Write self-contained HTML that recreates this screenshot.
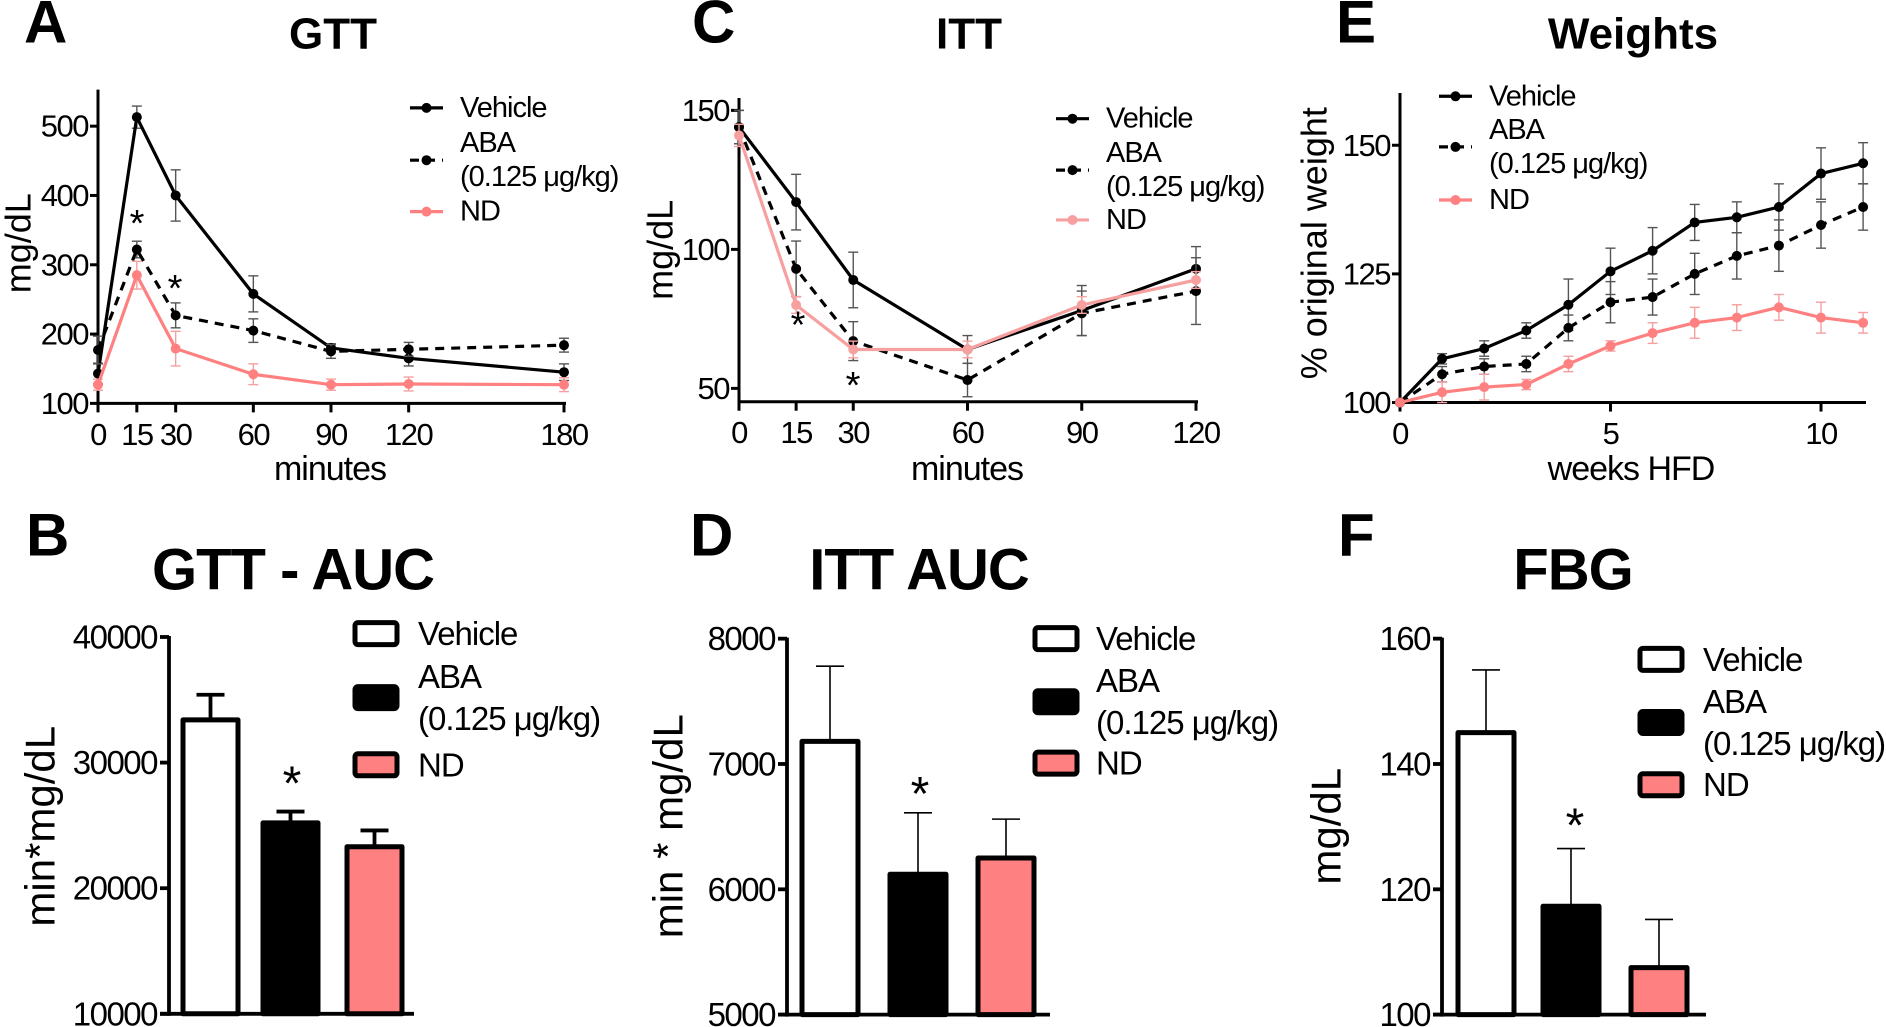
<!DOCTYPE html>
<html><head><meta charset="utf-8"><style>
html,body{margin:0;padding:0;background:#fff;}
svg{display:block;font-family:"Liberation Sans",Arial,sans-serif;}
</style></head><body>
<svg id="fig" width="1886" height="1027" viewBox="0 0 1886 1027" xmlns="http://www.w3.org/2000/svg"><g id="root"></g></svg>
<script>
// ---------- Panel A: GTT ----------
const gttTimes = [0, 15, 30, 60, 90, 120, 180];
const gttVehicle = [143, 513, 400, 258, 180, 165, 145];
const gttVehicleErr = [15, 16, 37, 26, 6, 11, 12];
const gttABA = [177, 322, 227, 205, 175, 178, 184];
const gttABAErr = [20, 12, 18, 17, 10, 10, 10];
const gttND = [127, 285, 179, 142, 127, 128, 127];
const gttNDErr = [8, 20, 25, 15, 8, 10, 10];
const gttXTicks = [0, 15, 30, 60, 90, 120, 180];
const gttYTicks = [100, 200, 300, 400, 500];
// ---------- Panel C: ITT ----------
const ittTimes = [0, 15, 30, 60, 90, 120];
const ittVehicle = [144, 117, 89, 64, 78, 93];
const ittVehicleErr = [6, 10, 10, 5, 9, 8];
const ittABA = [144, 93, 67, 53, 77, 85];
const ittABAErr = [6, 10, 7, 6, 8, 12];
const ittND = [141, 80, 64, 64, 80, 89];
const ittNDErr = [4, 3, 3, 3, 3, 3];
const ittXTicks = [0, 15, 30, 60, 90, 120];
const ittYTicks = [50, 100, 150];
// ---------- Panel E: Weights ----------
const wWeeks = [0, 1, 2, 3, 4, 5, 6, 7, 8, 9, 10, 11];
const wVehicle = [100, 108.5, 110.5, 114, 119, 125.5, 129.5, 135, 136, 138, 144.5, 146.5];
const wVehicleErr = [0, 1, 1.5, 1.5, 5, 4.5, 4.5, 3.5, 3, 4.5, 5, 4];
const wABA = [100, 105.5, 107, 107.5, 114.5, 119.5, 120.5, 125, 128.5, 130.5, 134.5, 138];
const wABAErr = [0, 1.5, 1.5, 1.5, 2.5, 4, 3.5, 4, 4.5, 5, 4.5, 4.5];
const wND = [100, 102, 103, 103.5, 107.5, 111, 113.5, 115.5, 116.5, 118.5, 116.5, 115.5];
const wNDErr = [0, 2, 2.5, 1, 1.5, 1, 2, 3, 2.5, 2.5, 3, 2];
const wXTicks = [0, 5, 10];
const wYTicks = [100, 125, 150];
// ---------- Bar panels ----------
const barGroups = ["Vehicle", "ABA", "ND"];
const gttAuc = [33400, 25200, 23300];
const gttAucErr = [2000, 900, 1300];
const gttAucTicks = [10000, 20000, 30000, 40000];
const ittAuc = [7180, 6120, 6250];
const ittAucErr = [600, 490, 310];
const ittAucTicks = [5000, 6000, 7000, 8000];
const fbg = [145, 117.3, 107.5];
const fbgErr = [10, 9.2, 7.7];
const fbgTicks = [100, 120, 140, 160];

const NS = "http://www.w3.org/2000/svg";
const root = document.getElementById("root");
const PINK = "#ff8080";
const K = 0.83;
function YT(v) { return v * K; }
function YB(v) { return 510 + (v - 510) * K; }
function mk(tag, attrs, parent) {
  const e = document.createElementNS(NS, tag);
  for (const k in attrs) e.setAttribute(k, attrs[k]);
  (parent || root).appendChild(e);
  return e;
}
function txt(s, x, y, size, opts, parent) {
  const t = mk("text", Object.assign({x: x, y: y, "font-size": size, fill: "#000", "text-anchor": "middle", "dominant-baseline": "central"}, opts || {}), parent);
  t.textContent = s;
  return t;
}

function linePanel(cfg) {
  const Y = YT;
  const yb = Y(cfg.yb), yt = Y(cfg.yt), axTop = Y(cfg.axTop);
  const g = mk("g", {});
  
  
  const sx = v => cfg.x0 + (v - cfg.xmin) * (cfg.x1 - cfg.x0) / (cfg.xmax - cfg.xmin);
  const sy = v => yb - (v - cfg.ymin) * (yb - yt) / (cfg.ymax - cfg.ymin);
  const letter = txt(cfg.letter, cfg.letterX, 22, 60, {"font-weight": "bold", "text-anchor": "start"}, g);
  
  
  const title = txt(cfg.title, cfg.titleX, 34, 44, {"font-weight": "bold"}, g);
  
  
  const yax = mk("line", {x1: cfg.x0, x2: cfg.x0, y1: axTop, y2: yb + 1.5, stroke: "#000", "stroke-width": 3}, g);
  
  
  const xax = mk("line", {x1: cfg.x0 - 1.5, x2: cfg.axRight, y1: yb, y2: yb, stroke: "#000", "stroke-width": 3}, g);
  
  
  cfg.yTicks.forEach(v => {
    mk("line", {x1: cfg.x0 - 8, x2: cfg.x0, y1: sy(v), y2: sy(v), stroke: "#000", "stroke-width": 3}, g);
    const t = txt(String(v), cfg.x0 - 10, sy(v), 31, {"text-anchor": "end", "letter-spacing": "-1.5"}, g);
    
    
  });
  cfg.xTicks.forEach(v => {
    mk("line", {x1: sx(v), x2: sx(v), y1: yb, y2: yb + 9, stroke: "#000", "stroke-width": 3}, g);
    const t = txt(String(v), sx(v), yb + 31, 31, {"letter-spacing": "-1.5"}, g);
    
    
  });
  const xl = txt(cfg.xLabel, cfg.xLabelX, Y(565), 34, {"letter-spacing": "-1"}, g);
  
  
  const yl = txt(cfg.yLabel, 0, 0, 36, {transform: "translate(" + cfg.yLabelX + "," + Y(cfg.yLabelY) + ") rotate(-90)"}, g);
  
  
  cfg.series.forEach(s => {
    const sg = mk("g", {}, g);
    
    
    s.vals.forEach((v, i) => {
      const e = s.err[i];
      if (!e) return;
      const x = sx(cfg.xs[i]);
      mk("line", {x1: x, x2: x, y1: sy(v - e), y2: sy(v + e), stroke: s.ecol, "stroke-width": 1.4}, sg);
      mk("line", {x1: x - 5, x2: x + 5, y1: sy(v - e), y2: sy(v - e), stroke: s.ecol, "stroke-width": 1.4}, sg);
      mk("line", {x1: x - 5, x2: x + 5, y1: sy(v + e), y2: sy(v + e), stroke: s.ecol, "stroke-width": 1.4}, sg);
    });
    const pts = s.vals.map((v, i) => sx(cfg.xs[i]).toFixed(1) + "," + sy(v).toFixed(1)).join(" ");
    const pl = mk("polyline", {points: pts, fill: "none", stroke: s.col, "stroke-width": 3.2, "stroke-dasharray": s.dash || "none"}, sg);
    
    
    s.vals.forEach((v, i) => {
      const c = mk("circle", {cx: sx(cfg.xs[i]), cy: sy(v), r: 5, fill: s.col}, sg);
      
      
    });
  });
  (cfg.stars || []).forEach(p => {
    const t = txt("*", p[0], Y(p[1]), 38, {}, g);
    
    
  });
  const L = cfg.legend;
  const lg = mk("g", {}, g);
  
  
  const ly = L.y.map(Y);
  const entries = [
    {y: ly[0], col: "#000", dash: null, lines: ["Vehicle"], ly: [ly[0]]},
    {y: ly[1], col: "#000", dash: "9,7", lines: ["ABA", "(0.125 \u03bcg/kg)"], ly: [ly[1] - 17, ly[1] + 17]},
    {y: ly[2], col: cfg.ndCol || PINK, dash: null, lines: ["ND"], ly: [ly[2]]}
  ];
  entries.forEach(en => {
    const eg = mk("g", {}, lg);
    
    
    mk("line", {x1: L.x, x2: L.x + 33, y1: en.y, y2: en.y, stroke: en.col, "stroke-width": 3.2, "stroke-dasharray": en.dash || "none"}, eg);
    mk("circle", {cx: L.x + 16.5, cy: en.y, r: 5, fill: en.col}, eg);
    en.lines.forEach((l, k) => txt(l, L.x + 50, en.ly[k], 29, {"text-anchor": "start", "letter-spacing": "-1"}, eg));
  });
}

function barPanel(cfg) {
  const Y = YB;
  const yb = Y(cfg.yb), yt = Y(cfg.yt);
  const g = mk("g", {});
  
  
  const sy = v => yb - (v - cfg.ymin) * (yb - yt) / (cfg.ymax - cfg.ymin);
  const letter = txt(cfg.letter, cfg.letterX, Y(540), 60, {"font-weight": "bold", "text-anchor": "start"}, g);
  
  
  const title = txt(cfg.title, cfg.titleX, Y(582), 58, {"font-weight": "bold", "letter-spacing": "-1"}, g);
  
  
  const yax = mk("line", {x1: cfg.x0, x2: cfg.x0, y1: yt - 1, y2: yb + 2, stroke: "#000", "stroke-width": 3.8}, g);
  
  
  const xax = mk("line", {x1: cfg.x0 - 9, x2: cfg.axRight, y1: yb, y2: yb, stroke: "#000", "stroke-width": 3.8}, g);
  
  
  cfg.ticks.forEach(v => {
    mk("line", {x1: cfg.x0 - 9, x2: cfg.x0, y1: sy(v), y2: sy(v), stroke: "#000", "stroke-width": 3.8}, g);
    const t = txt(String(v), cfg.x0 - 12, sy(v), 33, {"text-anchor": "end", "letter-spacing": "-1.5"}, g);
    
    
  });
  const yl = txt(cfg.yLabel, 0, 0, 42, {transform: "translate(" + cfg.yLabelX + "," + Y(891) + ") rotate(-90)"}, g);
  
  
  const fills = ["#fff", "#000", PINK];
  cfg.vals.forEach((v, i) => {
    const bx = cfg.barX[i], bw = cfg.barW;
    const bg = mk("g", {}, g);
    
    
    const cx = bx + bw / 2;
    const e = cfg.err[i];
    mk("line", {x1: cx, x2: cx, y1: sy(v), y2: sy(v + e), stroke: "#000", "stroke-width": cfg.errW}, bg);
    mk("line", {x1: cx - 14, x2: cx + 14, y1: sy(v + e), y2: sy(v + e), stroke: "#000", "stroke-width": cfg.errW}, bg);
    mk("rect", {x: bx, y: sy(v), width: bw, height: yb - sy(v), fill: fills[i], stroke: "#000", "stroke-width": 5, "stroke-linejoin": "round"}, bg);
  });
  const st = txt("*", cfg.star[0], Y(cfg.star[1]), 48, {}, g);
  
  
  const L = cfg.legend;
  const lg = mk("g", {}, g);
  
  
  const ly = L.y.map(Y);
  const ent = [
    {y: ly[0], lines: ["Vehicle"], ly: [ly[0]]},
    {y: ly[1], lines: ["ABA", "(0.125 \u03bcg/kg)"], ly: [ly[1] - 21, ly[1] + 21]},
    {y: ly[2], lines: ["ND"], ly: [ly[2]]}
  ];
  ent.forEach((en, i) => {
    const eg = mk("g", {}, lg);
    
    
    mk("rect", {x: L.x, y: en.y - 11, width: 42, height: 22, rx: 3, fill: fills[i], stroke: "#000", "stroke-width": 5}, eg);
    en.lines.forEach((l, k) => txt(l, L.tx, en.ly[k], 33, {"text-anchor": "start", "letter-spacing": "-1"}, eg));
  });
}

const ecolBlack = "#555", ecolPink = "#f4a0a0";
linePanel({name: "gtt-chart", letter: "A", letterX: 24, title: "GTT", titleX: 333,
  x0: 98, x1: 564, xmin: 0, xmax: 180, yb: 486, yt: 152, ymin: 100, ymax: 500, axTop: 108, axRight: 566,
  xs: gttTimes, xTicks: gttXTicks, yTicks: gttYTicks, xLabel: "minutes", xLabelX: 330, yLabel: "mg/dL", yLabelX: 18, yLabelY: 293,
  series: [
    {name: "series-vehicle", vals: gttVehicle, err: gttVehicleErr, col: "#000", ecol: ecolBlack},
    {name: "series-aba", vals: gttABA, err: gttABAErr, col: "#000", ecol: ecolBlack, dash: "9,7"},
    {name: "series-nd", vals: gttND, err: gttNDErr, col: PINK, ecol: ecolPink}],
  stars: [[137, 270], [175, 348]], legend: {x: 410, y: [130, 193, 255]}});
linePanel({name: "itt-chart", letter: "C", letterX: 692, title: "ITT", titleX: 969,
  x0: 739, x1: 1196, xmin: 0, xmax: 120, yb: 484, yt: 133, ymin: 45.2, ymax: 150, axTop: 118, axRight: 1198,
  xs: ittTimes, xTicks: ittXTicks, yTicks: ittYTicks, xLabel: "minutes", xLabelX: 967, yLabel: "mg/dL", yLabelX: 660, yLabelY: 301,
  ndCol: "#f7a0a0",
  series: [
    {name: "series-vehicle", vals: ittVehicle, err: ittVehicleErr, col: "#000", ecol: ecolBlack},
    {name: "series-aba", vals: ittABA, err: ittABAErr, col: "#000", ecol: ecolBlack, dash: "9,7"},
    {name: "series-nd", vals: ittND, err: ittNDErr, col: "#f7a0a0", ecol: ecolPink}],
  stars: [[798, 392], [853, 465]], legend: {x: 1056, y: [143, 205, 265]}});
linePanel({name: "weights-chart", letter: "E", letterX: 1336, title: "Weights", titleX: 1633,
  x0: 1400, x1: 1821, xmin: 0, xmax: 10, yb: 485, yt: 175, ymin: 100, ymax: 150, axTop: 112, axRight: 1866,
  xs: wWeeks, xTicks: wXTicks, yTicks: wYTicks, xLabel: "weeks HFD", xLabelX: 1631, yLabel: "% original weight", yLabelX: 1314, yLabelY: 293,
  series: [
    {name: "series-vehicle", vals: wVehicle, err: wVehicleErr, col: "#000", ecol: ecolBlack},
    {name: "series-aba", vals: wABA, err: wABAErr, col: "#000", ecol: ecolBlack, dash: "9,7"},
    {name: "series-nd", vals: wND, err: wNDErr, col: PINK, ecol: ecolPink}],
  stars: [], legend: {x: 1439, y: [116, 177, 241]}});

barPanel({name: "gtt-auc-chart", letter: "B", letterX: 26, title: "GTT - AUC", titleX: 293,
  x0: 169, axRight: 414, yb: 1117, yt: 663, ymin: 10000, ymax: 40000, ticks: gttAucTicks,
  vals: gttAuc, err: gttAucErr, barX: [183, 263, 347], barW: 55, errW: 3.8,
  yLabel: "min*mg/dL", yLabelX: 40, star: [292, 840],
  legend: {x: 355, tx: 418, y: [659, 736, 817]}});
barPanel({name: "itt-auc-chart", letter: "D", letterX: 690, title: "ITT AUC", titleX: 919,
  x0: 787, axRight: 1050, yb: 1118, yt: 665, ymin: 5000, ymax: 8000, ticks: ittAucTicks,
  vals: ittAuc, err: ittAucErr, barX: [802, 890, 978], barW: 56, errW: 1.6,
  yLabel: "min * mg/dL", yLabelX: 668, star: [920, 853],
  legend: {x: 1035, tx: 1096, y: [665, 741, 815]}});
barPanel({name: "fbg-chart", letter: "F", letterX: 1338, title: "FBG", titleX: 1573,
  x0: 1442, axRight: 1706, yb: 1118, yt: 665, ymin: 100, ymax: 160, ticks: fbgTicks,
  vals: fbg, err: fbgErr, barX: [1458, 1543, 1631], barW: 56, errW: 1.6,
  yLabel: "mg/dL", yLabelX: 1326, star: [1575, 891],
  legend: {x: 1640, tx: 1703, y: [690, 766, 841]}});
</script>
</body></html>
